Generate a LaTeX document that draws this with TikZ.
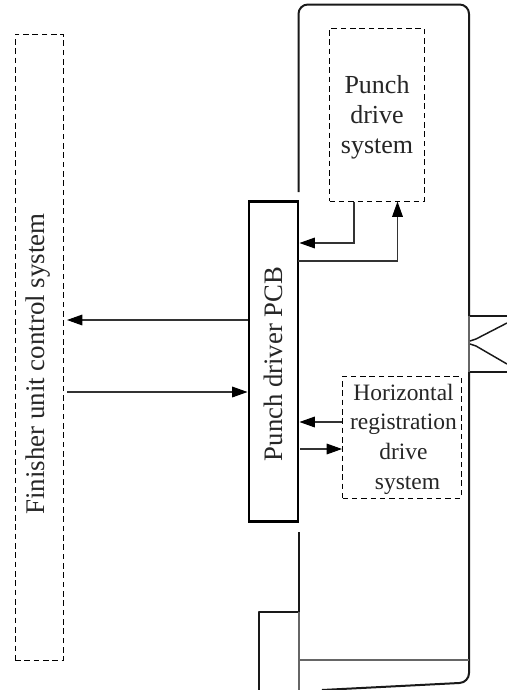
\documentclass[tikz,border=0pt]{standalone}
\usepackage{fontspec}
\setmainfont{Liberation Serif}
\usetikzlibrary{arrows.meta}
\tikzset{
  x=0.75pt,y=-0.75pt,
  wall/.style={line width=1.5pt,black!90,line join=round},
  thinwall/.style={line width=0.85pt,black!60},
  dashbox/.style={draw,line width=0.75pt,dash pattern=on 4.2pt off 2.8pt,inner sep=0pt},
  pcbbox/.style={draw,line width=2.2pt,inner sep=0pt},
  label/.style={inner sep=0pt,text=black!85,align=center},
  conn/.style={line width=0.8pt,black!80,-{Triangle[length=11.5pt,width=8pt,black]}},
}
\begin{document}
\begin{tikzpicture}
\useasboundingbox[fill=white] (0,0) rectangle (507,690);
% housing
\draw[wall,rounded corners=7pt] (298.5,192) -- (298.5,4.5) -- (469,4.5) -- (469,316);
\draw[wall,rounded corners=7pt] (469,372) -- (469,682.5) -- (322,690);
\draw[wall] (298.5,532) -- (298.5,612) -- (259,612) -- (259,690);
\draw[thinwall] (299,612) -- (299,690);
\draw[thinwall] (299,660) -- (469,660);
% entry slot
\draw[wall] (469,316) -- (507,316);
\draw[wall] (469,372) -- (507,372);
\draw[thinwall] (469,316) -- (469,372);
\draw[wall,line width=1.1pt] (507,323) -- (476,339) -- (470,341);
\draw[wall,line width=1.1pt] (507,364) -- (476,346) -- (470,344);
% boxes
\node[dashbox,minimum width=48.5*0.75pt,minimum height=626*0.75pt] (fin) at (39.25,347) {};
\node[label,rotate=90,font=\fontsize{20.2}{24}\selectfont] (fintext) at (38.5,364) {Finisher unit control system};
\node[pcbbox,minimum width=49*0.75pt,minimum height=320*0.75pt] (pcb) at (273.5,361.5) {};
\node[label,rotate=90,font=\fontsize{20}{24}\selectfont] (pcbtext) at (273,364) {Punch driver PCB};
\node[dashbox,minimum width=94.5*0.75pt,minimum height=173*0.75pt] (punch) at (376.75,114.5) {};
\node[label,font=\fontsize{19.5}{22.5}\selectfont] (punchtext) at (377,117) {Punch\\drive\\system};
\node[dashbox,minimum width=118.5*0.75pt,minimum height=122*0.75pt] (horiz) at (401.75,437) {};
\node[label,font=\fontsize{17.6}{22.2}\selectfont] (horiztext) at (403.5,439) {Horizontal\\registration\\drive\\\hspace*{6pt}system};
% connectors
\coordinate (pa) at (354,201.5);
\coordinate (pb) at (354,243);
\coordinate (pc) at (pcb.east |- pb);
\coordinate (pd) at (298,261);
\coordinate (pe) at (397.5,261);
\coordinate (pf) at (397.5,201.5);
\draw[conn] (pa) -- (pb) -- (pc);
\draw[conn] (pd) -- (pe) -- (pf);
\coordinate (a1) at (pcb.west |- 0,320);
\coordinate (a2) at (67,320);
\coordinate (b1) at (67,392);
\coordinate (b2) at (pcb.west |- 0,392);
\draw[conn] (a1) -- (a2);
\draw[conn] (b1) -- (b2);
\coordinate (c1) at (horiz.west |- 0,422);
\coordinate (c2) at (pcb.east |- 0,422);
\coordinate (d1) at (300,449);
\coordinate (d2) at (horiz.west |- 0,449);
\draw[conn] (c1) -- (c2);
\draw[conn] (d1) -- (d2);
\end{tikzpicture}
\end{document}
